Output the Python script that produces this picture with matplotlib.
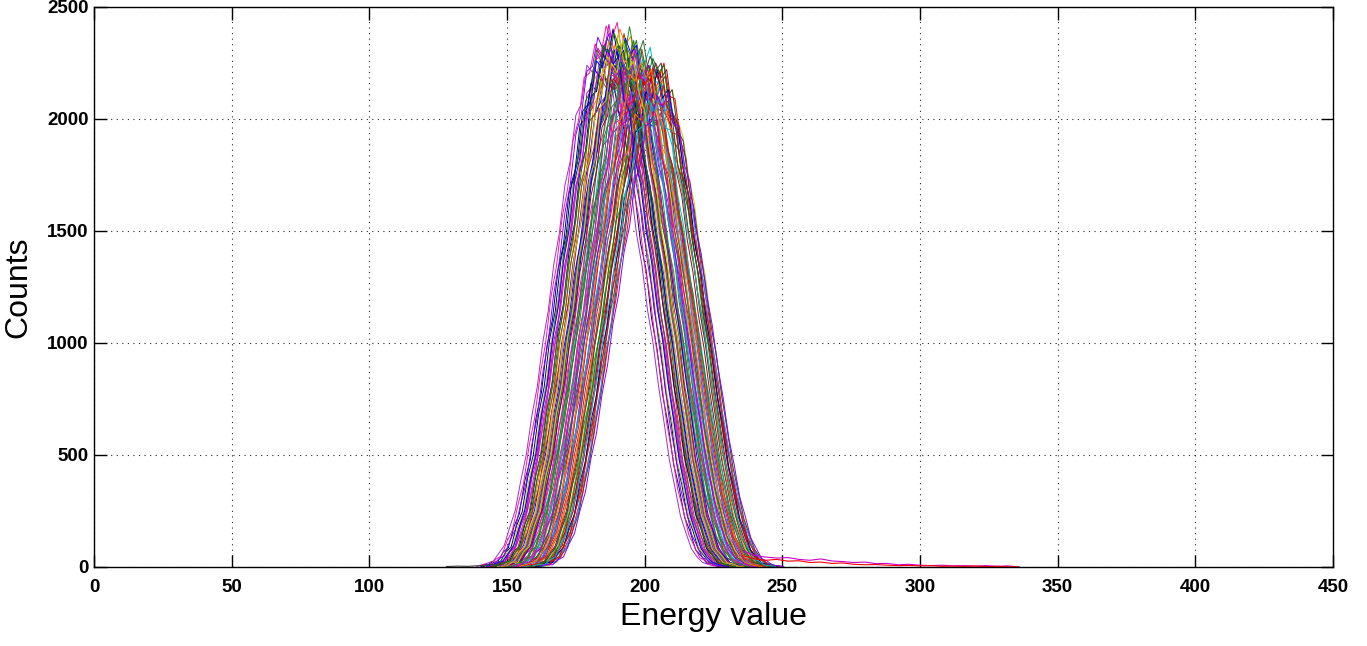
from matplotlib import pyplot as plt
import numpy as np

# offsets from each spectrum's peak (energy units) and three hand-read peak shapes
profile_dx = [-44, -42, -40, -38, -36, -34, -32, -30, -28, -26, -24, -22, -20, -18, -16,
              -14, -12, -10, -8, -6, -4, -2, 0, 2, 4, 6, 8, 10, 12, 14, 16, 18, 20, 22,
              24, 26, 28, 30, 32, 34, 36, 38, 40, 42, 44]
profile_a = [3, 9, 18, 26, 60, 95, 175, 250, 380, 495, 665, 795, 990, 1130, 1335,
             1470, 1680, 1790, 1990, 2040, 2210, 2180, 2260, 2195, 2230, 2040, 1990, 1780,
             1670, 1470, 1330, 1135, 990, 800, 640, 470, 350, 225, 150, 80, 45, 20, 12, 5, 2]
profile_b = [6, 12, 10, 34, 48, 110, 160, 270, 360, 520, 640, 825, 965, 1165, 1300,
             1505, 1630, 1840, 1925, 2110, 2130, 2255, 2200, 2270, 2120, 2110, 1920, 1840,
             1625, 1500, 1300, 1160, 965, 810, 620, 490, 335, 245, 140, 90, 40, 28, 9, 6, 3]
profile_c = [2, 5, 22, 20, 66, 88, 182, 242, 392, 488, 672, 790, 1000, 1120, 1340,
             1460, 1690, 1770, 2000, 2030, 2190, 2150, 2290, 2160, 2200, 2060, 1980, 1790,
             1680, 1465, 1345, 1125, 985, 780, 645, 465, 360, 225, 160, 78, 50, 18, 14, 4, 1]
profile_ref = 2250

# peak position and peak height of each spectrum
centers = [191.5, 203.0, 187.0, 197.5, 194.0, 206.0, 189.5, 199.0, 185.5, 201.5,
           195.5, 192.5, 204.5, 188.0, 198.0, 183.0, 200.5, 196.0, 190.5, 205.0,
           193.0, 186.5, 202.0, 197.0, 191.0, 199.5, 184.5, 203.5, 195.0, 189.0,
           206.0, 193.5, 198.5, 187.5, 201.0, 194.5, 190.0, 205.5, 196.5, 192.0,
           200.0, 186.0, 202.5, 197.0, 188.5, 204.0, 194.0, 199.0, 191.0, 184.0,
           205.5, 195.5, 189.5, 201.5, 193.0, 198.0, 187.0, 203.0, 196.0, 190.5,
           200.5, 185.0, 204.5, 192.5, 197.5, 188.0, 202.0, 195.0, 199.5, 191.5,
           205.0, 194.5, 186.5, 200.0, 196.5, 189.0, 203.5, 192.0, 198.5, 206.5]
peaks = [2300, 2150, 2380, 2200, 2250, 2180, 2330, 2120, 2290, 2230,
         2050, 2340, 2100, 2410, 2260, 2280, 2170, 2310, 2200, 2230,
         2120, 2350, 2000, 2280, 2390, 2220, 2220, 2210, 2330, 2260,
         2150, 2290, 1950, 2300, 2140, 2370, 2290, 2060, 2180, 2250,
         2300, 2250, 2190, 2100, 2360, 2240, 2150, 2270, 2200, 2330,
         2120, 2240, 2180, 2050, 2350, 2150, 2270, 2260, 2200, 2340,
         2060, 2360, 2180, 2220, 2330, 2240, 2270, 2110, 2180, 2260,
         2130, 2210, 2300, 2200, 2270, 2370, 2080, 2310, 2240, 2100]

# long high-energy tails of two spectra
tail_x = [236, 240, 244, 248, 252, 256, 260, 264, 268, 272, 276, 280, 284, 288, 292,
          296, 300, 304, 308, 312, 316, 320, 324, 328, 332, 336]
tail_a = [70, 52, 44, 40, 42, 34, 30, 36, 27, 24, 20, 22, 15, 16, 10, 12, 8, 6, 8, 5,
          6, 4, 6, 3, 5, 0]
tail_b = [50, 36, 30, 34, 26, 28, 20, 22, 16, 18, 12, 10, 11, 8, 6, 7, 5, 6, 3, 4,
          3, 4, 2, 3, 1, 0]
lead_x = [128, 132, 136, 140, 144, 148]
lead_a = [2, 4, 3, 6, 10, 14]

colors = ['#0000ff', '#ff0000', '#cc00cc', '#007f00', '#00bfbf', '#cccc00', '#ff7f00',
          '#7f00ff', '#00007f', '#a00020', '#2e6b2e', '#8b4513', '#3f3f3f', '#ff1493',
          '#1e90ff', '#9932cc', '#b22222', '#228b22']

profiles = [profile_a, profile_b, profile_c]

fig = plt.figure(figsize=(13.67, 6.46), dpi=100)
ax = fig.add_axes([0.0688, 0.1223, 0.9063, 0.8669])

dx = np.array(profile_dx, dtype=float)
for i, (c, p) in enumerate(zip(centers, peaks)):
    shape = np.array(profiles[i % 3], dtype=float)
    ax.plot(c + dx, shape * p / profile_ref, color=colors[i % len(colors)], lw=0.7)

ax.plot(tail_x, tail_a, color='#cc00cc', lw=0.8)
ax.plot(tail_x, tail_b, color='#ff0000', lw=0.8)
ax.plot(lead_x, lead_a, color='#3f3f3f', lw=0.8)

ax.set_xlim(0, 450)
ax.set_ylim(0, 2500)
ax.set_xticks(range(0, 451, 50))
ax.set_yticks(range(0, 2501, 500))

ax.grid(True, linestyle=(0, (1, 4)), color='k', lw=0.8, alpha=0.85)
ax.tick_params(direction='in', length=9, width=1, top=True, right=True)
ax.tick_params(axis='x', pad=9)
ax.tick_params(axis='y', pad=4)
for lab in ax.get_xticklabels() + ax.get_yticklabels():
    lab.set_family('Liberation Sans')
    lab.set_fontweight('bold')
    lab.set_fontsize(13.5)
for s in ax.spines.values():
    s.set_linewidth(1)

ax.set_xlabel('Energy value', family='Liberation Sans', fontsize=23, labelpad=4)
ax.set_ylabel('Counts', family='Liberation Sans', fontsize=23, labelpad=10)

fig.savefig('out.png', dpi=100)
